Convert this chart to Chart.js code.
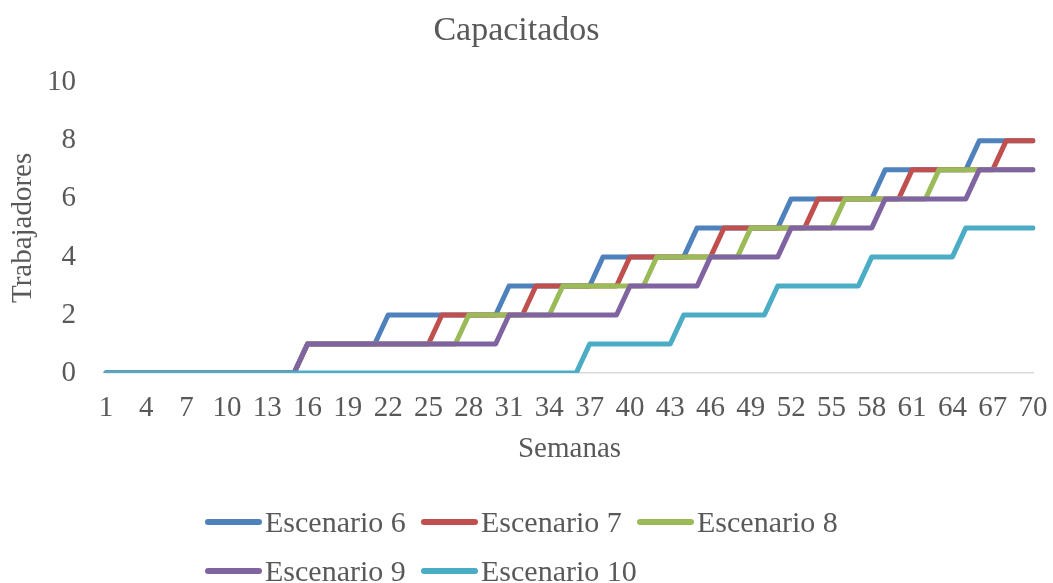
<!DOCTYPE html>
<html lang="es">
<head>
<meta charset="utf-8">
<title>Capacitados</title>
<script src="https://cdn.jsdelivr.net/npm/chart.js@4.4.1/dist/chart.umd.min.js"></script>
<style>
  html, body { margin: 0; padding: 0; background: #ffffff; }
  canvas { display: block; }
</style>
</head>
<body>
<canvas id="chart" width="1053" height="583"></canvas>
<script>
// Semanas (categorías del eje X)
const semanas = [
  1, 2, 3, 4, 5, 6, 7, 8, 9, 10,
  11, 12, 13, 14, 15, 16, 17, 18, 19, 20,
  21, 22, 23, 24, 25, 26, 27, 28, 29, 30,
  31, 32, 33, 34, 35, 36, 37, 38, 39, 40,
  41, 42, 43, 44, 45, 46, 47, 48, 49, 50,
  51, 52, 53, 54, 55, 56, 57, 58, 59, 60,
  61, 62, 63, 64, 65, 66, 67, 68, 69, 70
];

// Trabajadores capacitados por semana, por escenario
const escenario6 = [
  0, 0, 0, 0, 0, 0, 0, 0, 0, 0,
  0, 0, 0, 0, 0, 1, 1, 1, 1, 1,
  1, 2, 2, 2, 2, 2, 2, 2, 2, 2,
  3, 3, 3, 3, 3, 3, 3, 4, 4, 4,
  4, 4, 4, 4, 5, 5, 5, 5, 5, 5,
  5, 6, 6, 6, 6, 6, 6, 6, 7, 7,
  7, 7, 7, 7, 7, 8, 8, 8, 8, 8
];
const escenario7 = [
  0, 0, 0, 0, 0, 0, 0, 0, 0, 0,
  0, 0, 0, 0, 0, 1, 1, 1, 1, 1,
  1, 1, 1, 1, 1, 2, 2, 2, 2, 2,
  2, 2, 3, 3, 3, 3, 3, 3, 3, 4,
  4, 4, 4, 4, 4, 4, 5, 5, 5, 5,
  5, 5, 5, 6, 6, 6, 6, 6, 6, 6,
  7, 7, 7, 7, 7, 7, 7, 8, 8, 8
];
const escenario8 = [
  0, 0, 0, 0, 0, 0, 0, 0, 0, 0,
  0, 0, 0, 0, 0, 1, 1, 1, 1, 1,
  1, 1, 1, 1, 1, 1, 1, 2, 2, 2,
  2, 2, 2, 2, 3, 3, 3, 3, 3, 3,
  3, 4, 4, 4, 4, 4, 4, 4, 5, 5,
  5, 5, 5, 5, 5, 6, 6, 6, 6, 6,
  6, 6, 7, 7, 7, 7, 7, 7, 7, 7
];
const escenario9 = [
  0, 0, 0, 0, 0, 0, 0, 0, 0, 0,
  0, 0, 0, 0, 0, 1, 1, 1, 1, 1,
  1, 1, 1, 1, 1, 1, 1, 1, 1, 1,
  2, 2, 2, 2, 2, 2, 2, 2, 2, 3,
  3, 3, 3, 3, 3, 4, 4, 4, 4, 4,
  4, 5, 5, 5, 5, 5, 5, 5, 6, 6,
  6, 6, 6, 6, 6, 7, 7, 7, 7, 7
];
const escenario10 = [
  0, 0, 0, 0, 0, 0, 0, 0, 0, 0,
  0, 0, 0, 0, 0, 0, 0, 0, 0, 0,
  0, 0, 0, 0, 0, 0, 0, 0, 0, 0,
  0, 0, 0, 0, 0, 0, 1, 1, 1, 1,
  1, 1, 1, 2, 2, 2, 2, 2, 2, 2,
  3, 3, 3, 3, 3, 3, 3, 4, 4, 4,
  4, 4, 4, 4, 5, 5, 5, 5, 5, 5
];

const nombres = ['Escenario 6', 'Escenario 7', 'Escenario 8', 'Escenario 9', 'Escenario 10'];
const colores = ['#4F81BD', '#C0504D', '#9BBB59', '#8064A2', '#4BACC6'];
const series = [escenario6, escenario7, escenario8, escenario9, escenario10];

const FONT = "'Liberation Serif', 'Times New Roman', serif";
const TEXT = '#595959';

// Legend laid out as a grid: three columns, rows aligned on the left
const gridLegend = {
  id: 'gridLegend',
  afterDraw(chart) {
    const ctx = chart.ctx;
    const cols = 3, colW = 216, rowH = 49;
    const x0 = 208, y0 = 522, lineLen = 51;
    ctx.save();
    ctx.font = '30px ' + FONT;
    ctx.textAlign = 'left';
    ctx.textBaseline = 'alphabetic';
    chart.data.datasets.forEach((ds, i) => {
      const x = x0 + (i % cols) * colW;
      const y = y0 + Math.floor(i / cols) * rowH;
      ctx.strokeStyle = ds.borderColor;
      ctx.lineWidth = 6;
      ctx.lineCap = 'round';
      ctx.beginPath();
      ctx.moveTo(x, y);
      ctx.lineTo(x + lineLen, y);
      ctx.stroke();
      ctx.fillStyle = TEXT;
      ctx.fillText(ds.label, x + 57, y + 10);
    });
    ctx.restore();
  }
};

new Chart(document.getElementById('chart'), {
  type: 'line',
  data: {
    labels: semanas,
    datasets: series.map((valores, i) => ({
      label: nombres[i],
      data: valores,
      borderColor: colores[i],
      backgroundColor: colores[i],
      borderWidth: 5,
      borderCapStyle: 'round',
      borderJoinStyle: 'round',
      pointRadius: 0,
      tension: 0,
      fill: false,
      order: series.length - i
    }))
  },
  options: {
    responsive: false,
    animation: false,
    devicePixelRatio: 1,
    layout: { padding: { left: 0, right: 20, top: 0, bottom: 116 } },
    plugins: {
      legend: { display: false },
      tooltip: { enabled: false },
      title: {
        display: true,
        text: 'Capacitados',
        color: TEXT,
        font: { family: FONT, size: 34, weight: 'normal' },
        padding: { top: 11, bottom: 31 }
      }
    },
    scales: {
      x: {
        offset: false,
        grid: { display: false, drawTicks: false },
        border: { display: true, color: '#D9D9D9', width: 1.5 },
        ticks: {
          autoSkip: false,
          maxRotation: 0,
          minRotation: 0,
          padding: 18,
          color: TEXT,
          font: { family: FONT, size: 29 },
          callback: function (value, index) {
            return index % 3 === 0 ? this.getLabelForValue(value) : null;
          }
        },
        title: {
          display: true,
          text: 'Semanas',
          color: TEXT,
          font: { family: FONT, size: 29 },
          padding: { top: 0, bottom: 0 }
        },
        afterFit(scale) {
          scale.height = 94;
          scale.paddingRight = 0;
        }
      },
      y: {
        min: 0,
        max: 10,
        grid: { display: false, drawTicks: false },
        border: { display: false },
        ticks: {
          stepSize: 2,
          padding: 30,
          color: TEXT,
          font: { family: FONT, size: 29 }
        },
        title: {
          display: true,
          text: 'Trabajadores',
          color: TEXT,
          font: { family: FONT, size: 29 },
          padding: { top: 6, bottom: 0 }
        },
        afterFit(scale) { scale.width = 106; }
      }
    }
  },
  plugins: [gridLegend]
});
</script>
</body>
</html>
